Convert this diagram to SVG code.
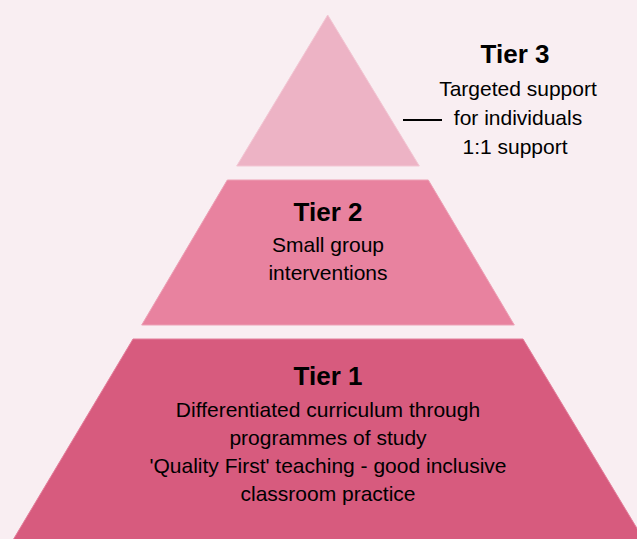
<svg xmlns="http://www.w3.org/2000/svg" width="637" height="539" viewBox="0 0 637 539">
<style>
.t{font-family:"Liberation Sans",Arial,sans-serif;fill:#000;text-anchor:middle}
.h{font-size:26px;font-weight:bold}
.b{font-size:21px}
.tier{stroke-width:1}
</style>
<rect width="637" height="539" fill="#f9eef2"/>
<g id="tier3">
<polygon class="tier" points="327.7,15 419.3,166 236.7,166" fill="#edb3c5" stroke="#f2c6d3"/>
<text class="t h" x="515" y="63">Tier 3</text>
<text class="t b" x="518" y="96">Targeted support</text>
<text class="t b" x="518" y="125">for individuals</text>
<text class="t b" x="515" y="154">1:1 support</text>
</g>
<g id="tier2">
<polygon class="tier" points="227.3,180 428.3,180 514.3,325 141.7,325" fill="#e8829f" stroke="#eda0b5"/>
<text class="t h" x="328" y="221">Tier 2</text>
<text class="t b" x="328" y="252">Small group</text>
<text class="t b" x="328" y="280">interventions</text>
</g>
<g id="tier1">
<polygon class="tier" points="133,339 523,339 644,540 13,540" fill="#d75b7e" stroke="#e37f9b"/>
<text class="t h" x="328" y="385">Tier 1</text>
<text class="t b" x="328" y="417">Differentiated curriculum through</text>
<text class="t b" x="328" y="445">programmes of study</text>
<text class="t b" x="328" y="473">'Quality First' teaching - good inclusive</text>
<text class="t b" x="328" y="501">classroom practice</text>
</g>
<g id="connectors">
<line x1="403" y1="120" x2="442" y2="120" stroke="#000" stroke-width="2"/>
</g>
</svg>
